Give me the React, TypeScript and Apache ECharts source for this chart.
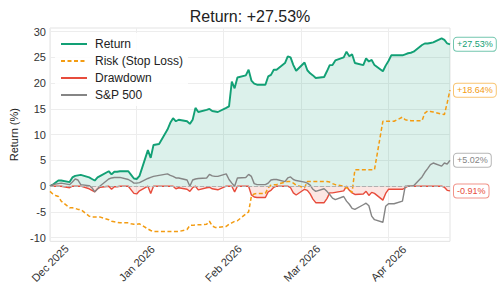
import React, { useEffect, useRef } from 'react';
import * as echarts from 'echarts';

const dates = [
  '2025-12-01','2025-12-02','2025-12-03','2025-12-04','2025-12-05',
  '2025-12-08','2025-12-09','2025-12-10','2025-12-11','2025-12-12',
  '2025-12-15','2025-12-16','2025-12-17','2025-12-18','2025-12-19',
  '2025-12-22','2025-12-23','2025-12-24','2025-12-25','2025-12-26',
  '2025-12-29','2025-12-30','2025-12-31','2026-01-01','2026-01-02',
  '2026-01-05','2026-01-06','2026-01-07','2026-01-08','2026-01-09',
  '2026-01-12','2026-01-13','2026-01-14','2026-01-15','2026-01-16',
  '2026-01-19','2026-01-20','2026-01-21','2026-01-22','2026-01-23',
  '2026-01-26','2026-01-27','2026-01-28','2026-01-29','2026-01-30',
  '2026-02-02','2026-02-03','2026-02-04','2026-02-05','2026-02-06',
  '2026-02-09','2026-02-10','2026-02-11','2026-02-12','2026-02-13',
  '2026-02-16','2026-02-17','2026-02-18','2026-02-19','2026-02-20',
  '2026-02-23','2026-02-24','2026-02-25','2026-02-26','2026-02-27',
  '2026-03-02','2026-03-03','2026-03-04','2026-03-05','2026-03-06',
  '2026-03-09','2026-03-10','2026-03-11','2026-03-12','2026-03-13',
  '2026-03-16','2026-03-17','2026-03-18','2026-03-19','2026-03-20',
  '2026-03-23','2026-03-24','2026-03-25','2026-03-26','2026-03-27',
  '2026-03-30','2026-03-31','2026-04-01','2026-04-02','2026-04-03',
  '2026-04-06','2026-04-07','2026-04-08','2026-04-09','2026-04-10',
  '2026-04-13','2026-04-14','2026-04-15','2026-04-16','2026-04-17',
  '2026-04-20','2026-04-21','2026-04-22','2026-04-23',
];

const returnPct = [
  0, 0.3, 0.7, 1.1, 1.1,
  0.8, 1.7, 2.0, 2.1, 2.2,
  1.7, 1.4, 1.1, 1.7, 2.0,
  2.9, 2.3, 2.8, 2.8, 2.9,
  2.9, 2.2, 1.5, 1.4, 2.0,
  7.0, 5.5, 8.0, 8.1, 8.2,
  11.0, 12.3, 13.2, 12.6, 12.9,
  12.6, 12.1, 12.9, 15.2, 14.4,
  14.8, 15.0, 14.6, 14.5, 14.4,
  15.2, 15.5, 20.3, 19.0, 21.1,
  21.5, 22.6, 20.5, 19.9, 19.7,
  19.7, 21.3, 21.6, 22.6, 22.6,
  23.9, 25.2, 25.0, 23.5, 22.4,
  24.0, 22.5, 21.9, 21.5, 21.0,
  21.2, 22.3, 23.5, 23.5, 24.4,
  25.0, 26.1, 25.2, 25.6, 23.9,
  23.5, 24.8, 24.2, 24.5, 23.5,
  22.3, 23.4, 24.3, 25.4, 25.4,
  25.4, 25.6, 25.8, 25.9, 26.1,
  27.4, 27.7, 27.7, 27.8, 27.9,
  28.7, 28.4, 27.7, 27.53,
];

const riskStopLoss = [
  -1.0, -1.5, -1.8, -2.0, -2.9,
  -4.2, -4.2, -4.3, -4.5, -4.5,
  -5.8, -6.0, -6.0, -6.0, -6.0,
  -6.5, -6.8, -6.9, -7.0, -7.1,
  -7.1, -7.3, -7.4, -7.4, -7.3,
  -8.3, -8.6, -8.8, -8.8, -8.8,
  -8.8, -8.8, -8.8, -8.8, -8.8,
  -8.4, -7.6, -7.6, -7.5, -7.5,
  -7.4, -6.8, -7.7, -8.0, -8.0,
  -7.8, -7.4, -7.1, -6.8, -6.7,
  -5.4, -5.0, -1.9, -1.5, -1.4,
  -1.4, -0.3, 0.2, 0.3, 0.3,
  0.8, 0.9, 0.9, 0.6, 0.2,
  -0.3, 0.9, 0.9, 0.9, 0.9,
  0.9, 0.9, 0.8, 0.5, 0.3,
  0.0, -0.3, -0.6, -1.2, 3.2,
  3.2, 3.2, 3.2, 3.2, 3.2,
  12.6, 12.6, 12.6, 12.6, 12.6,
  13.4, 12.9, 12.8, 12.7, 12.7,
  12.7, 14.2, 14.6, 14.5, 14.4,
  14.0, 13.9, 16.2, 18.64,
];

const drawdown = [
  0, 0, 0, 0, 0,
  -0.3, 0, 0, 0, 0,
  -0.5, -0.8, -1.1, -0.5, -0.2,
  0, -0.6, -0.1, -0.1, 0,
  0, -0.7, -1.4, -1.5, -0.9,
  0, -1.4, 0, 0, 0,
  0, 0, 0, -0.5, -0.3,
  -0.6, -1.0, -0.3, 0, -0.7,
  -0.3, -0.2, -0.5, -0.6, -0.7,
  0, 0, 0, -1.1, 0,
  0, 0, -1.7, -2.1, -2.2,
  -2.2, -1.1, -0.8, -0.2, 0,
  0, 0, -0.3, -1.3, -1.7,
  -0.6, -0.8, -1.5, -2.5, -3.2,
  -3.2, -2.4, -1.3, -1.3, -1.2,
  -0.9, 0, -0.8, -1.3, -1.6,
  -1.5, -1.0, -1.8, -1.2, -1.4,
  -2.7, -1.4, -0.6, -0.6, -0.6,
  -0.6, -0.3, 0, 0, 0,
  0, 0, 0, 0, 0,
  0, -0.2, -0.8, -0.91,
];

const sp500 = [
  0, 0.3, 0.4, 0.5, 0.6,
  0.3, 0.8, 1.4, 1.2, 0.3,
  0.1, -0.3, -1.1, -0.5, 0.1,
  1.4, 1.6, 1.7, 1.7, 1.7,
  1.3, 1.0, 0.6, 0.6, 0.7,
  1.5, 1.7, 1.9, 2.0, 2.1,
  2.4, 2.1, 1.9, 1.6, 1.6,
  1.2, 0, 1.2, 1.4, 1.5,
  1.6, 2.3, 2.0, 1.9, 1.9,
  2.4, 1.3, 0.6, 0, 1.6,
  1.7, 2.3, 1.9, 0.5, 0.3,
  0.3, 0.6, 1.2, 1.3, 1.3,
  0.9, 1.6, 1.8, 1.3, 1.1,
  0.8, 0.6, 0.2, -0.6, -1.0,
  -0.5, -1.0, -1.6, -2.3, -2.6,
  -2.0, -2.9, -3.5, -4.3, -4.5,
  -3.6, -3.3, -3.8, -5.8, -6.5,
  -7.0, -3.9, -3.4, -3.4, -3.4,
  -2.9, 0.0, 0.0, 0.0, 0.1,
  1.8, 2.7, 3.4, 4.2, 4.5,
  3.9, 4.5, 4.3, 5.02,
];

const yTicks = [-10, -5, 0, 5, 10, 15, 20, 25, 30];
const monthTicks = ['2025-12-01', '2026-01-01', '2026-02-01', '2026-03-01', '2026-04-01'];
const monthNames = ['Jan', 'Feb', 'Mar', 'Apr', 'May', 'Jun', 'Jul', 'Aug', 'Sep', 'Oct', 'Nov', 'Dec'];

const GREEN = '#12a075';
const ORANGE = '#f39c12';
const RED = '#e74c3c';
const GRAY = '#858585';
const FONT = '"Liberation Sans", Arial, Helvetica, sans-serif';

const ts = (d: string) => Date.parse(d + 'T00:00:00Z');
const fmtPct = (v: number) => (v >= 0 ? '+' : '') + v.toFixed(2) + '%';
const pairs = (vals: number[]) => dates.map((d, i) => [ts(d), vals[i]]);

const endLabel = (color: string, border: string) => ({
  show: true,
  formatter: (p: any) => fmtPct(p.value[1]),
  color,
  fontFamily: FONT,
  fontSize: 9,
  lineHeight: 10,
  backgroundColor: '#ffffff',
  borderColor: border,
  borderWidth: 1,
  borderRadius: 3,
  padding: [2, 3, 1, 3],
  distance: 4,
});

export default function App() {
  const ref = useRef<HTMLDivElement>(null);
  useEffect(() => {
    if (!ref.current) return;
    const chart = echarts.init(ref.current, undefined, { renderer: 'svg' });
    const last = returnPct[returnPct.length - 1];
    const monthTs = monthTicks.map(ts);
    chart.setOption({
      animation: false,
      backgroundColor: '#ffffff',
      textStyle: { fontFamily: FONT },
      title: {
        text: 'Return: ' + fmtPct(last),
        left: 'center',
        top: 3,
        textStyle: { fontFamily: FONT, fontSize: 16, fontWeight: 'normal', color: '#222' },
      },
      legend: {
        data: ['Return', 'Risk (Stop Loss)', 'Drawdown', 'S&P 500'],
        orient: 'vertical',
        left: 55,
        top: 33,
        itemWidth: 26,
        itemHeight: 12,
        itemGap: 5,
        padding: 5,
        itemStyle: { opacity: 0 },
        backgroundColor: 'rgba(255,255,255,0.85)',
        textStyle: { fontFamily: FONT, fontSize: 12, color: '#222', padding: [0, 0, 0, 3] },
      },
      grid: {
        left: 50,
        right: 50,
        top: 28,
        bottom: 44,
        show: true,
        borderColor: '#e3e3e3',
        borderWidth: 1,
        backgroundColor: '#ffffff',
      },
      xAxis: {
        type: 'value',
        min: ts(dates[0]),
        max: ts(dates[dates.length - 1]),
        axisLine: { show: false },
        axisTick: { show: false, customValues: monthTs },
        splitLine: { show: true, lineStyle: { color: '#ededed', width: 1 } },
        axisLabel: {
          customValues: monthTs,
          rotate: 45,
          align: 'center',
          verticalAlign: 'middle',
          margin: 22,
          fontFamily: FONT,
          fontSize: 11,
          color: '#333',
          formatter: (v: number) => {
            const d = new Date(v);
            return monthNames[d.getUTCMonth()] + ' ' + d.getUTCFullYear();
          },
        },
      },
      yAxis: {
        type: 'value',
        min: -10.7,
        max: 30.7,
        name: 'Return (%)',
        nameLocation: 'middle',
        nameGap: 22,
        nameTextStyle: { fontFamily: FONT, fontSize: 11, color: '#222' },
        axisLine: { show: false },
        axisTick: { show: false, customValues: yTicks },
        splitLine: { show: true, lineStyle: { color: '#ededed', width: 1 } },
        axisLabel: {
          customValues: yTicks,
          fontFamily: FONT,
          fontSize: 11,
          color: '#333',
          margin: 4,
        },
      },
      series: [
        {
          name: 'Return',
          type: 'line',
          data: pairs(returnPct),
          symbol: 'none',
          showSymbol: false,
          lineStyle: { color: GREEN, width: 1.9 },
          itemStyle: { color: GREEN },
          areaStyle: { color: 'rgba(26,165,122,0.22)' },
          endLabel: endLabel(GREEN, 'rgba(20,160,120,0.6)'),
          z: 2,
        },
        {
          name: 'Risk (Stop Loss)',
          type: 'line',
          data: pairs(riskStopLoss),
          symbol: 'none',
          showSymbol: false,
          lineStyle: { color: ORANGE, width: 1.5, type: [4, 2.5] },
          itemStyle: { color: ORANGE },
          endLabel: endLabel(ORANGE, 'rgba(243,156,18,0.6)'),
          z: 4,
        },
        {
          name: 'Drawdown',
          type: 'line',
          data: pairs(drawdown),
          symbol: 'none',
          showSymbol: false,
          lineStyle: { color: RED, width: 1.4 },
          itemStyle: { color: RED },
          areaStyle: { color: 'rgba(231,76,60,0.2)' },
          endLabel: endLabel(RED, 'rgba(231,76,60,0.6)'),
          markLine: {
            silent: true,
            symbol: 'none',
            label: { show: false },
            lineStyle: { color: '#b0b0b0', type: 'dashed', width: 1 },
            data: [{ yAxis: 0 }],
          },
          z: 3,
        },
        {
          name: 'S&P 500',
          type: 'line',
          data: pairs(sp500),
          symbol: 'none',
          showSymbol: false,
          lineStyle: { color: GRAY, width: 1.4 },
          itemStyle: { color: GRAY },
          endLabel: endLabel(GRAY, 'rgba(133,133,133,0.6)'),
          z: 3,
        },
      ],
    });
    return () => chart.dispose();
  }, []);
  return <div ref={ref} style={{ width: 500, height: 286, position: 'absolute', left: 0, top: 0 }} />;
}
